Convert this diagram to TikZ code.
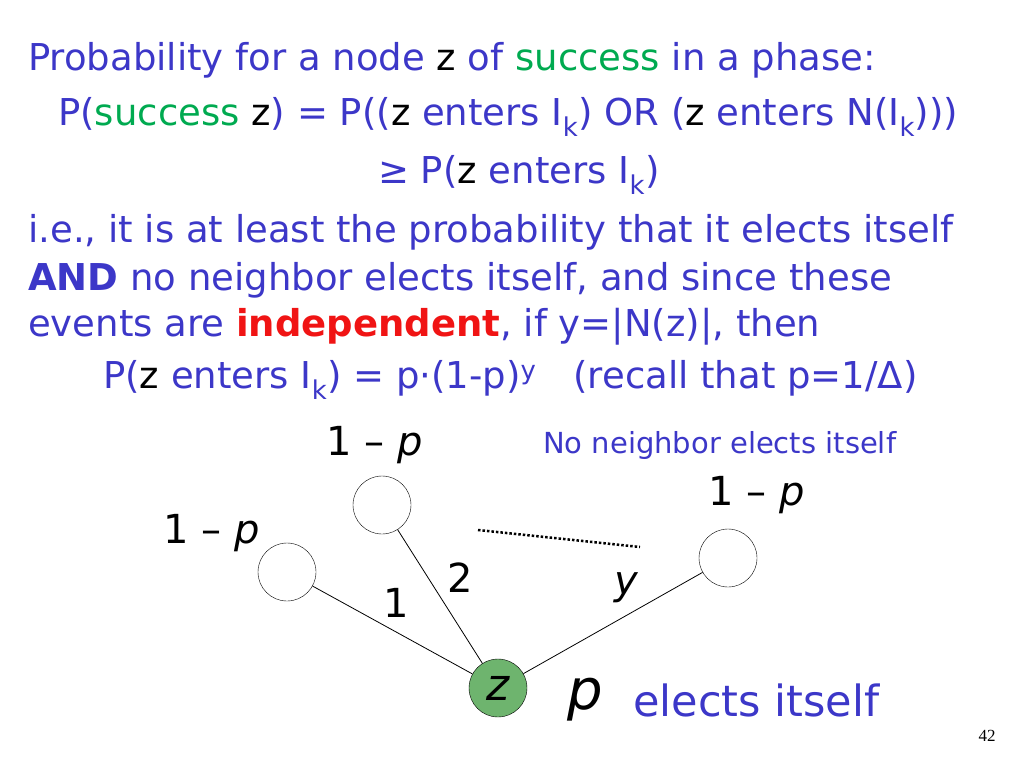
\documentclass[tikz,border=0pt]{standalone}
\usepackage{fontspec}
\setmainfont{DejaVu Sans}
\newfontfamily\serifnum{Liberation Serif}
\definecolor{tb}{RGB}{60,55,200}
\definecolor{tg}{RGB}{0,170,80}
\definecolor{tr}{RGB}{240,20,20}
\definecolor{zg}{RGB}{110,180,110}
\begin{document}
\begin{tikzpicture}[x=1pt,y=-1pt,
  txt/.style={anchor=west,inner sep=0,text=tb,font=\fontsize{37}{42}\selectfont},
  vert/.style={circle,draw,minimum size=58pt,inner sep=0},
  lab/.style={inner sep=0,font=\fontsize{40}{44}\selectfont}]
\useasboundingbox (0,0) rectangle (1024,768);
\node[txt] (l1) at (28,60) {Probability for a node \textcolor{black}{z} of \textcolor{tg}{success} in a phase:};
\node[txt] (l2) at (58,117) {P(\textcolor{tg}{success} \textcolor{black}{z}) = P((\textcolor{black}{z} enters I\textsubscript{k}) OR (\textcolor{black}{z} enters N(I\textsubscript{k})))};
\node[txt] (l3) at (378,175) {≥ P(\textcolor{black}{z} enters I\textsubscript{k})};
\node[txt] (l4) at (28,232) {i.e., it is at least the probability that it elects itself};
\node[txt] (l5) at (28,280) {\textbf{AND} no neighbor elects itself, and since these};
\node[txt] (l6) at (28,327) {events are \textcolor{tr}{\textbf{independent}}, if y=|N(z)|, then};
\node[txt] (l7) at (103,380) {P(\textcolor{black}{z} enters I\textsubscript{k}) = p·(1-p)\textsuperscript{y}\quad (recall that p=1/Δ)};
\node[vert] (a) at (382,505) {};
\node[vert] (b) at (287,572) {};
\node[vert] (c) at (728,558) {};
\node[vert,fill=zg] (z) at (498,688) {\fontsize{44}{44}\selectfont\textit{z}};
\draw[line width=0.8pt] (z) -- (a); \draw[line width=0.8pt] (z) -- (b); \draw[line width=0.8pt] (z) -- (c);
\coordinate (d1) at (478,530); \coordinate (d2) at (640,547);
\draw[line width=2.5pt,dotted] (d1) -- (d2);
\node[lab] (la) at (375,445) {1 – \textit{p}};
\node[lab] (lb) at (212,533) {1 – \textit{p}};
\node[lab] (lc) at (757,495) {1 – \textit{p}};
\node[lab] (e1) at (396,603) {1};
\node[lab] (e2) at (460,578) {2};
\node[lab] (ey) at (627,588) {\textit{y}};
\node[txt,font=\fontsize{29}{32}\selectfont] (nn) at (543,445) {No neighbor elects itself};
\node[lab,font=\fontsize{56}{56}\selectfont] (p) at (585,700) {\textit{p}};
\node[txt,font=\fontsize{43}{47}\selectfont] (el) at (633,700) {elects itself};
\node[inner sep=0,font=\serifnum\fontsize{17}{20}\selectfont] (pg) at (987,736) {42};
\end{tikzpicture}
\end{document}
